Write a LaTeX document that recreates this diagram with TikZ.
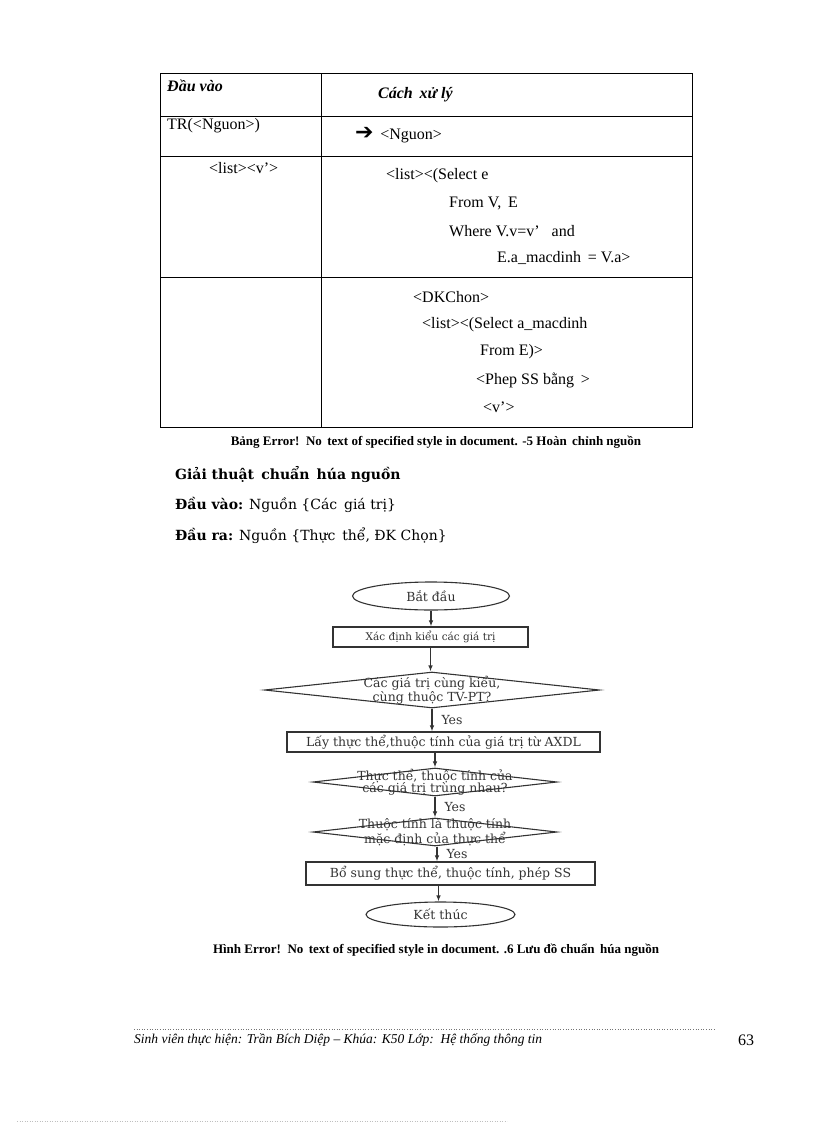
\documentclass[tikz,border=0pt]{standalone}
\usepackage{fontspec}
\setmainfont{Liberation Serif}
\newfontfamily\dvserif{DejaVu Serif}
\newfontfamily\dvsym{DejaVu Sans}
\usepackage{tikz}
\usetikzlibrary{arrows.meta,shapes.geometric,positioning}

\begin{document}
\begin{tikzpicture}[
    x=1pt, y=-1pt,
    >={Latex[length=6pt,width=4.5pt]},
    cell/.style={font=\fontsize{16}{18}\selectfont, anchor=west, inner sep=0pt},
    head/.style={font=\fontsize{16}{18}\selectfont\bfseries\itshape, anchor=west, inner sep=0pt},
    capt/.style={font=\fontsize{13}{15}\selectfont\bfseries, inner sep=0pt},
    para/.style={font=\fontsize{14}{17}\selectfont\dvserif, anchor=west, inner sep=0pt},
    fl/.style={draw=black!80, line width=1.1pt},
    ftxt/.style={font=\fontsize{12.5}{12.5}\selectfont\dvserif, text=black!80},
    box/.style={fl, rectangle, inner sep=0pt, ftxt},
    term/.style={fl, ellipse, inner sep=0pt, ftxt},
    decide/.style={fl, diamond, inner sep=0pt, aspect=1},
    yes/.style={ftxt, right, inner sep=0pt, xshift=9pt},
  ]
  \useasboundingbox (0,0) rectangle (816,1123);

  % the table
  \draw[line width=1pt] (160,74) rectangle (692,427);
  \draw[line width=1pt] (321,74) -- (321,427);
  \foreach \yy in {117,157,277}
    \draw[line width=1pt] (160,\yy) -- (692,\yy);

  \node[head] (hin) at (167,86) {Đầu vào};
  \node[head] (hout) at (378,95) {Cách\, xử lý};
  \node[cell] (in1) at (167,126) {TR(<Nguon>)};
  \node[cell] (out1) at (355,135) {{\dvsym\bfseries\fontsize{22}{18}\selectfont ➔}\, <Nguon>};
  \node[cell] (in2) at (209,168) {<list><v’>};
  \node[cell] (out2a) at (386,176) {<list><(Select e};
  \node[cell] (out2b) at (449,203) {From V,\, E};
  \node[cell] (out2c) at (449,231) {Where V.v=v’\,\,\, and};
  \node[cell] (out2d) at (497,258) {E.a\_macdinh\, = V.a>};
  \node[cell] (out3a) at (413,297) {<DKChon>};
  \node[cell] (out3b) at (422,325) {<list><(Select a\_macdinh};
  \node[cell] (out3c) at (480,352) {From E)>};
  \node[cell] (out3d) at (476,380) {<Phep SS bằng\, >};
  \node[cell] (out3e) at (483,407) {<v’>};

  \node[capt] (tcap) at (436,442) {Bảng Error!\, No\, text of specified style in document. -5 Hoàn\, chỉnh nguồn};

  % algorithm heading
  \node[para, font=\fontsize{14}{17}\selectfont\dvserif\bfseries] (algo) at (175,475) {Giải thuật\, chuẩn\, húa nguồn};
  \node[para] (algin) at (175,505) {\textbf{Đầu vào:} Nguồn \{Các\, giá trị\}};
  \node[para] (algout) at (175,536) {\textbf{Đầu ra:} Nguồn \{Thực\, thể, ĐK Chọn\}};

  % flowchart
  \node[term, minimum width=157pt, minimum height=28pt] (start) at (431,596) {Bắt đầu};
  \node[box, minimum width=195pt, minimum height=20pt, font=\fontsize{10.5}{11}\selectfont\dvserif] (kind) at (430.5,637) {Xác định kiểu các giá trị};
  \node[decide, minimum width=335pt, minimum height=36pt,
    label={[ftxt, align=center]center:Các giá trị cùng kiểu,\\cùng thuộc TV-PT?}] (same) at (432,690) {};
  \node[box, minimum width=313pt, minimum height=20pt] (fetch) at (443.5,742) {Lấy thực thể,thuộc tính của giá trị từ AXDL};
  \node[decide, minimum width=244pt, minimum height=28pt,
    label={[ftxt, align=center]center:Thực thể, thuộc tính của\\các giá trị trùng nhau?}] (match) at (435,782) {};
  \node[decide, minimum width=244pt, minimum height=28pt,
    label={[ftxt, align=center]center:Thuộc tính là thuộc tính\\mặc định của thực thể}] (dflt) at (435,832) {};
  \node[box, minimum width=289pt, minimum height=23pt] (add) at (450.5,873.5) {Bổ sung thực thể, thuộc tính, phép SS};
  \node[term, minimum width=149pt, minimum height=25pt] (stop) at (440.5,914.5) {Kết thúc};

  \draw[fl, ->] (start.south) -- (start.south |- kind.north);
  \draw[fl, ->] (kind.south) -- (kind.south |- same.north);
  \draw[fl, ->] (same.south) -- (same.south |- fetch.north) node[yes, midway] {Yes};
  \draw[fl, ->] (match.north |- fetch.south) -- (match.north);
  \draw[fl, ->] (match.south) -- (dflt.north) node[yes, midway] {Yes};
  \draw[fl, ->] ([xshift=2pt]dflt.south) -- ([xshift=2pt]dflt.south |- add.north) node[yes, midway] {Yes};
  \draw[fl, ->] ([xshift=-2pt]stop.north |- add.south) -- ([xshift=-2pt]stop.north);

  \node[capt] (fcap) at (436,950) {Hình Error!\, No\, text of specified style in document. .6 Lưu đồ chuẩn\, húa nguồn};

  % footer
  \draw[black!55, dotted, line width=0.6pt] (134,1029) -- (714,1029);
  \node[font=\fontsize{13.5}{15}\selectfont\itshape, anchor=west, inner sep=0pt] (foot) at (134,1040)
    {Sinh viên thực hiện: Trần Bích Diệp – Khúa: K50 Lớp:\, Hệ thống thông tin};
  \node[font=\fontsize{16}{18}\selectfont, inner sep=0pt] (pageno) at (746,1040) {63};
  \draw[black!25, dotted, line width=0.5pt] (17,1121) -- (507,1121);
\end{tikzpicture}
\end{document}
